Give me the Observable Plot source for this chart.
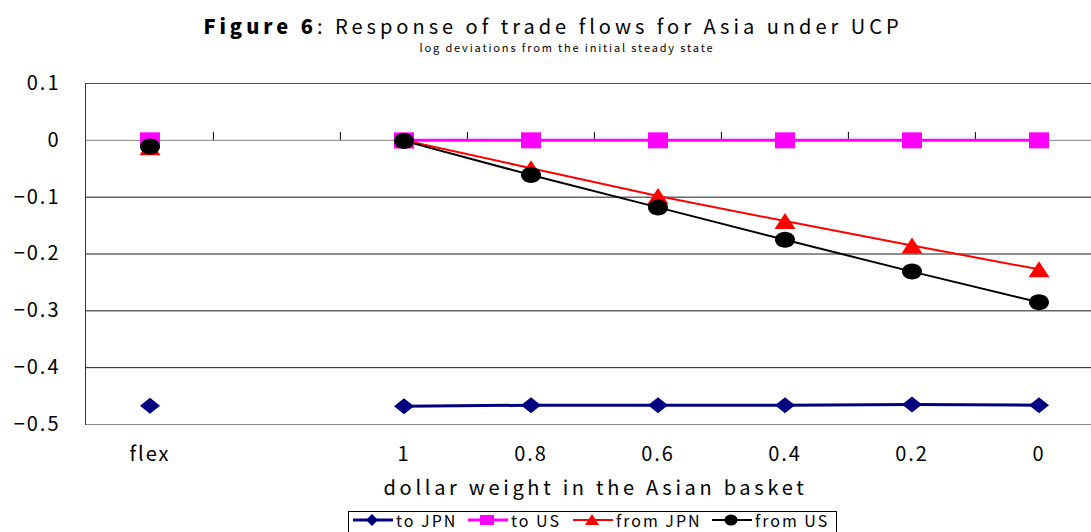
<!DOCTYPE html>
<html><head><meta charset="utf-8">
<script src="https://cdn.jsdelivr.net/npm/d3@7"></script>
<script src="https://cdn.jsdelivr.net/npm/@observablehq/plot@0.6"></script>
<style>
html,body{margin:0;padding:0;background:#fff;}
body{width:1091px;height:532px;overflow:hidden;position:relative;font-family:"Noto Sans CJK JP","Noto Sans",sans-serif;color:#000;}
#title{position:absolute;top:13px;left:0;width:1106px;text-align:center;font-size:20px;letter-spacing:4px;line-height:26px;white-space:nowrap;}
#title b{font-weight:900;}
#subtitle{position:absolute;top:40px;left:0;width:1134px;text-align:center;font-size:11px;letter-spacing:1.85px;line-height:14px;white-space:nowrap;}
#chart{position:absolute;top:58px;left:0;}
#chart svg text{letter-spacing:2px;}
#chart svg .xtitle text{letter-spacing:3.7px;}
#legend{position:absolute;left:348px;top:511px;width:487px;height:30px;border:1px solid #000;background:#fff;}
#legend .it{position:absolute;top:-2px;height:20px;display:flex;align-items:center;font-size:16px;line-height:18px;letter-spacing:2px;white-space:nowrap;}
#legend svg{display:block;margin-right:2px;}
</style>
</head><body>
<div id="title"><b>Figure 6</b>: Response of trade flows for Asia under UCP</div>
<div id="subtitle">log deviations from the initial steady state</div>
<div id="chart"></div>
<div id="legend"></div>
<script>
// ---- data ----
const categories = ["flex", "blank", "1", "0.8", "0.6", "0.4", "0.2", "0"];
const xTickLabels = ["flex", "", "1", "0.8", "0.6", "0.4", "0.2", "0"];
const seriesNames = ["to JPN", "to US", "from JPN", "from US"];
const toJPN   = [-0.467, null, -0.468, -0.466, -0.466, -0.466, -0.465, -0.466];
const toUS    = [0,      null, 0,      0,      0,      0,      0,      0];
const fromJPN = [-0.012, null, 0,      -0.049, -0.098, -0.142, -0.185, -0.227];
const fromUS  = [-0.011, null, -0.001, -0.061, -0.118, -0.175, -0.231, -0.285];
const yTicks = [0.1, 0, -0.1, -0.2, -0.3, -0.4, -0.5];
const yTickLabels = ["0.1", "0", "\u22120.1", "\u22120.2", "\u22120.3", "\u22120.4", "\u22120.5"];
const xTitle = "dollar weight in the Asian basket";
const colors = ["#000080", "#FF00FF", "#FF0000", "#000000"];

// ---- symbols ----
function rectSym(w, h) { return {draw(c) { c.moveTo(-w/2, -h/2); c.lineTo(w/2, -h/2); c.lineTo(w/2, h/2); c.lineTo(-w/2, h/2); c.closePath(); }}; }
function diamondSym(w, h) { return {draw(c) { c.moveTo(0, -h/2); c.lineTo(w/2, 0); c.lineTo(0, h/2); c.lineTo(-w/2, 0); c.closePath(); }}; }
function triSym(w, h) { return {draw(c) { c.moveTo(0, -h/2); c.lineTo(w/2, h/2); c.lineTo(-w/2, h/2); c.closePath(); }}; }
function ellSym(w, h) { return {draw(c) { const a = w/2, b = h/2, k = 0.5523;
  c.moveTo(a, 0); c.bezierCurveTo(a, b*k, a*k, b, 0, b); c.bezierCurveTo(-a*k, b, -a, b*k, -a, 0);
  c.bezierCurveTo(-a, -b*k, -a*k, -b, 0, -b); c.bezierCurveTo(a*k, -b, a, -b*k, a, 0); c.closePath(); }}; }
const symbols = [diamondSym(20, 16), rectSym(20, 16), triSym(21, 16), ellSym(20, 16)];
const widths = [3, 3, 2, 2];

const seriesValues = [toJPN, toUS, fromJPN, fromUS];
const rows = seriesValues.map(vals => categories.map((c, i) => ({cat: c, v: vals[i]})));
const labelOf = Object.fromEntries(categories.map((c, i) => [c, xTickLabels[i]]));
const yLabelOf = new Map(yTicks.map((t, i) => [t, yTickLabels[i]]));

const xRange = [85, 1103];
const bw = (xRange[1] - xRange[0]) / categories.length;
const font = '"Noto Sans CJK JP","Noto Sans",sans-serif';

const lineMark = k => Plot.line(rows[k], {x: "cat", y: "v", stroke: colors[k], strokeWidth: widths[k], curve: "linear"});
const dotMark = k => Plot.dot(rows[k].filter(d => d.v != null), {x: "cat", y: "v", fill: colors[k], stroke: "none", symbol: symbols[k], r: 8});

const plot = Plot.plot({
  width: 1091, height: 447,
  marginLeft: 85, marginRight: 0, marginTop: 25, marginBottom: 81,
  style: {fontFamily: font, fontSize: "20px", color: "#000", background: "transparent"},
  x: {type: "band", domain: categories, range: xRange, padding: 0, label: null},
  y: {domain: [-0.5, 0.1], label: null},
  marks: [
    Plot.ruleY(yTicks.filter(d => d !== 0 && d !== 0.1 && d !== -0.5), {stroke: "#1a1a1a"}),
    Plot.ruleY([0.1], {stroke: "#555"}),
    Plot.ruleY([-0.5], {stroke: "#888"}),
    Plot.ruleY([0], {stroke: "#808080"}),
    Plot.frame({anchor: "left", stroke: "#333"}),
    Plot.ruleX(categories.slice(1), {x: d => d, y1: 0, y2: 0.014, dx: -bw / 2, stroke: "#000"}),
    Plot.axisY({ticks: yTicks, tickSize: 0, tickPadding: 25, tickFormat: d => yLabelOf.get(d), fontSize: 20, label: null}),
    Plot.axisX({tickSize: 0, tickPadding: 22, tickFormat: d => labelOf[d], fontSize: 20, label: null}),
    Plot.text([xTitle], {frameAnchor: "bottom", dy: 64, dx: 7, fontSize: 20, lineAnchor: "middle", textAnchor: "middle", className: "xtitle"}),
    lineMark(0), lineMark(2), lineMark(1), lineMark(3),
    dotMark(0), dotMark(2), dotMark(1), dotMark(3)
  ]
});
document.getElementById("chart").append(plot);

// ---- legend ----
const legendLeft = [3, 118, 223, 362];
const legendShapes = [
  c => `<path d="M20,1 L26,7 L20,13 L14,7 Z" fill="${c}"/>`,
  c => `<rect x="13" y="2" width="14" height="10" fill="${c}"/>`,
  c => `<path d="M20,1 L27,12 L13,12 Z" fill="${c}"/>`,
  c => `<ellipse cx="20" cy="7" rx="6.5" ry="5.5" fill="${c}"/>`
];
const legend = document.getElementById("legend");
seriesNames.forEach((name, k) => {
  const it = document.createElement("div");
  it.className = "it";
  it.style.left = legendLeft[k] + "px";
  it.innerHTML = `<svg width="42" height="14"><line x1="1" x2="41" y1="7" y2="7" stroke="${colors[k]}" stroke-width="${widths[k]}"/>${legendShapes[k](colors[k])}</svg><span>${name}</span>`;
  legend.append(it);
});
</script>
</body></html>
